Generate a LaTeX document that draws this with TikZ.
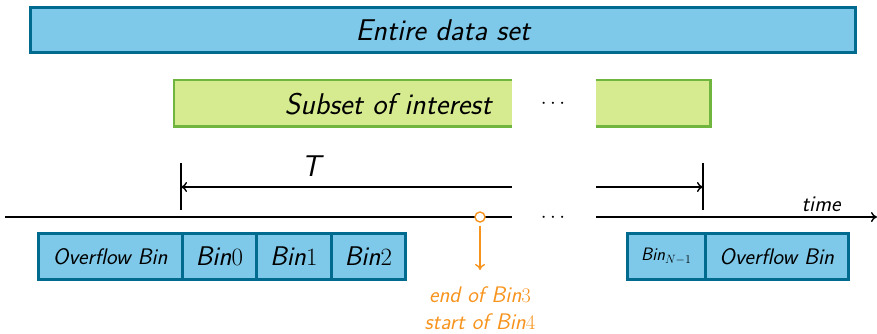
\documentclass[tikz,border=0pt]{standalone}
\usepackage{fontspec}
\usetikzlibrary{arrows.meta}
\definecolor{boxblue}{RGB}{126,201,233}
\definecolor{edgeblue}{RGB}{0,106,143}
\definecolor{boxgreen}{RGB}{214,235,143}
\definecolor{edgegreen}{RGB}{112,181,62}
\definecolor{markorange}{RGB}{247,148,30}
\tikzset{
  bluebox/.style={draw=edgeblue, fill=boxblue, line width=2.5pt, inner sep=0pt, anchor=north west},
  greenfill/.style={fill=boxgreen, inner sep=0pt, anchor=north west},
  greenedge/.style={draw=edgegreen, line width=2.5pt},
  axisline/.style={line width=1.4pt, black},
  bigtxt/.style={font=\sffamily\itshape\fontsize{30}{34}\selectfont},
  bintxt/.style={font=\sffamily\itshape\fontsize{27}{30}\selectfont},
  smalltxt/.style={font=\sffamily\itshape\fontsize{22.5}{26}\selectfont},
  dotstxt/.style={font=\fontsize{20}{24}\selectfont, inner sep=0pt},
}
\begin{document}
\begin{tikzpicture}[x=1pt, y=-1pt]
\useasboundingbox (0,0) rectangle (877,333);

% whole data set
\node[bluebox, minimum width=825pt, minimum height=45pt] (all) at (29,6) {};
\node[bigtxt] (alltxt) at (all.center) {Entire data set};

% subset of interest, split in two parts with a gap
\node[greenfill, minimum width=338pt, minimum height=46pt] (subA) at (174,80) {};
\node[greenfill, minimum width=114pt, minimum height=46pt] (subB) at (596,80) {};
\draw[greenedge] (subA.north east) -- (subA.north west) -- (subA.south west) -- (subA.south east);
\draw[greenedge] (subB.north west) -- (subB.north east) -- (subB.south east) -- (subB.south west);
\node[bigtxt, anchor=east] (subtxt) at (495,104) {Subset of interest};
\node[dotstxt] (dotsA) at (553,104) {$\cdots$};

% interval T
\coordinate (tl) at (181,163); \coordinate (tlb) at (181,210);
\coordinate (tr) at (703,163); \coordinate (trb) at (703,210);
\draw[axisline] (tl) -- (tlb);
\draw[axisline] (tr) -- (trb);
\coordinate (ta) at (181,187); \coordinate (tb) at (512,187);
\coordinate (tc) at (596,187); \coordinate (td) at (703,187);
\draw[axisline, -{To[length=6pt,width=10pt]}] (tb) -- (ta);
\draw[axisline, -{To[length=6pt,width=10pt]}] (tc) -- (td);
\node[bigtxt] (T) at (311,166) {T};

% time axis
\coordinate (x0) at (5,217); \coordinate (x1) at (512,217);
\coordinate (x2) at (596,217); \coordinate (x3) at (877,217);
\draw[axisline] (x0) -- (x1);
\draw[axisline, -{To[length=6pt,width=10pt]}] (x2) -- (x3);
\node[dotstxt] (dotsB) at (553,218) {$\cdots$};
\node[smalltxt] (time) at (821,204) {time};

% bins on the left
\node[bluebox, minimum width=144pt, minimum height=46pt] (ovl) at (37,232) {};
\node[bluebox, minimum width=74pt, minimum height=46pt] (b0) at (181,232) {};
\node[bluebox, minimum width=75pt, minimum height=46pt] (b1) at (255,232) {};
\node[bluebox, minimum width=74pt, minimum height=46pt] (b2) at (330,232) {};
\node[smalltxt] at (ovl.center) {Overflow Bin};
\node[bintxt] at (b0.center) {Bin$0$};
\node[bintxt] at (b1.center) {Bin$1$};
\node[bintxt] at (b2.center) {Bin$2$};

% bins on the right
\node[bluebox, minimum width=78pt, minimum height=46pt] (bn) at (626,232) {};
\node[bluebox, minimum width=143pt, minimum height=46pt] (ovr) at (704,232) {};
\node[font=\sffamily\itshape\fontsize{18}{20}\selectfont] at (bn.center) {Bin$_{N-1}$};
\node[smalltxt] at (ovr.center) {Overflow Bin};

% bin boundary marker
\node[circle, draw=markorange, fill=white, line width=1.4pt, minimum size=10pt, inner sep=0pt] (m) at (480,217) {};
\coordinate (mend) at (480,270);
\draw[markorange, line width=1.4pt, -{To[length=6pt,width=10pt]}] ([yshift=-3pt]m.south) -- (mend);
\node[smalltxt, text=markorange] (e3) at (480,295) {end of Bin$3$};
\node[smalltxt, text=markorange] (s4) at (480,322) {start of Bin$4$};
\end{tikzpicture}
\end{document}
